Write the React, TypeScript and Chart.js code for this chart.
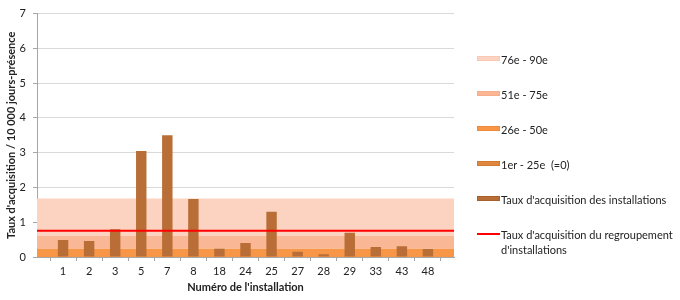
import React, { useEffect, useRef } from "react";
import { Chart, registerables } from "chart.js";

Chart.register(...registerables);

const categories = ["", "1", "2", "3", "5", "7", "8", "18", "24", "25", "27", "28", "29", "33", "43", "48", ""];
const installationRates = [null, 0.49, 0.46, 0.8, 3.05, 3.5, 1.67, 0.24, 0.4, 1.3, 0.15, 0.08, 0.7, 0.29, 0.31, 0.23, null];
const groupRate = 0.755;
const p25 = 0;
const p50 = 0.24;
const p75 = 0.61;
const p90 = 1.68;
const yTicks = [0, 1, 2, 3, 4, 5, 6, 7];

const bandLabels = ["1er - 25e  (=0)", "26e - 50e", "51e - 75e", "76e - 90e"];
const bandValues = [p25, p50, p75, p90];
const bandColors = ["#E0873F", "#F79646", "#F9B796", "#FBD3C0"];
const bandBorders = ["#D47A30", "#F08A38", "#F7AE88", "#F9C8B2"];
const barLabel = "Taux d'acquisition des installations";
const barColor = "#B86E36";
const lineLabel = "Taux d'acquisition du regroupement d'installations";
const lineColor = "#FF0000";

const FONT = "Lato, 'Open Sans', sans-serif";

export default function App() {
  const ref = useRef<HTMLCanvasElement | null>(null);

  useEffect(() => {
    document.body.style.margin = "0";
    const ctx = ref.current!;
    const n = categories.length;
    const bandDatasets: any[] = bandValues.map((v, i) => ({
      type: "line",
      label: bandLabels[i],
      data: new Array(n).fill(v),
      borderWidth: 0,
      borderColor: "rgba(0,0,0,0)",
      pointRadius: 0,
      backgroundColor: bandColors[i],
      fill: i === 0 ? "origin" : "-1",
      order: 10,
    }));
    const chart = new Chart(ctx, {
      type: "bar",
      data: {
        labels: categories,
        datasets: [
          ...bandDatasets,
          {
            type: "bar",
            label: barLabel,
            data: installationRates as any,
            backgroundColor: barColor,
            borderWidth: 0,
            barPercentage: 0.4,
            categoryPercentage: 1,
            order: 5,
          },
          {
            type: "line",
            label: lineLabel,
            data: new Array(n).fill(groupRate),
            borderColor: lineColor,
            borderWidth: 2,
            pointRadius: 0,
            fill: false,
            order: 1,
          },
        ] as any,
      },
      options: {
        animation: false,
        responsive: false,
        maintainAspectRatio: false,
        layout: { padding: { left: 0, top: 12, right: 226, bottom: 0 } },
        plugins: { legend: { display: false }, tooltip: { enabled: false } },
        scales: {
          x: {
            type: "category",
            offset: false,
            grid: { drawOnChartArea: false, drawTicks: true, tickLength: 4, color: "#A6A6A6" },
            border: { color: "#A6A6A6", width: 1 },
            ticks: { color: "#222", font: { family: FONT, size: 11 }, padding: 4, maxRotation: 0, autoSkip: false },
            title: {
              display: true,
              text: "Numéro de l'installation",
              color: "#222",
              font: { family: FONT, size: 11, weight: "bold" },
              padding: { top: 0, bottom: 6 },
            },
            afterFit: (s: any) => {
              s.height = 43;
            },
          },
          y: {
            min: 0,
            max: 7,
            afterBuildTicks: (s: any) => {
              s.ticks = yTicks.map((v) => ({ value: v }));
            },
            grid: { color: "#D9D9D9", tickLength: 4, tickColor: "#A6A6A6" },
            border: { color: "#A6A6A6", width: 1 },
            ticks: { color: "#222", font: { family: FONT, size: 11 }, padding: 7 },
            title: {
              display: true,
              text: "Taux d'acquisition / 10 000 jours-présence",
              color: "#222",
              font: { family: FONT, size: 11, weight: "bold" },
              padding: { top: 5, bottom: 0 },
            },
            afterFit: (s: any) => {
              s.width = 37;
            },
          },
        },
      },
    });
    return () => chart.destroy();
  }, []);

  const legendItems = [
    { label: bandLabels[3], color: bandColors[3], border: bandBorders[3], kind: "box" },
    { label: bandLabels[2], color: bandColors[2], border: bandBorders[2], kind: "box" },
    { label: bandLabels[1], color: bandColors[1], border: bandBorders[1], kind: "box" },
    { label: bandLabels[0], color: bandColors[0], border: bandBorders[0], kind: "box" },
    { label: barLabel, color: barColor, border: "#A95F2A", kind: "box" },
    { label: lineLabel, color: lineColor, border: lineColor, kind: "line" },
  ];

  return (
    <div style={{ position: "fixed", left: 0, top: 0, width: 680, height: 300, background: "#fff" }}>
      <canvas ref={ref} width={680} height={300} style={{ position: "absolute", left: 0, top: 0 }} />
      {legendItems.map((it, i) => (
        <div
          key={i}
          style={{
            position: "absolute",
            left: 477,
            top: 52 + i * 35,
            display: "flex",
            alignItems: "flex-start",
            fontFamily: FONT,
            fontSize: 11,
            lineHeight: "15px",
            color: "#222",
          }}
        >
          <div
            style={{
              width: 23,
              height: it.kind === "line" ? 2 : 5,
              marginTop: it.kind === "line" ? 6 : 4,
              background: it.color,
              border: it.kind === "line" ? "none" : `1px solid ${it.border}`,
              boxSizing: "border-box",
              flex: "none",
            }}
          />
          <div style={{ width: 182, marginLeft: 1, whiteSpace: "pre-wrap" }}>{it.label}</div>
        </div>
      ))}
    </div>
  );
}
